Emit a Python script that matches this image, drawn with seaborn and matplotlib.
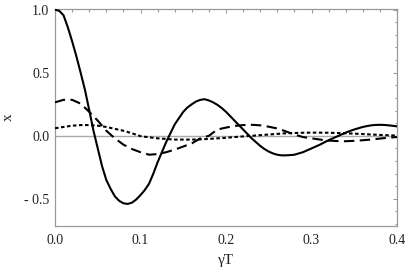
import numpy as np
import pandas as pd
import matplotlib
matplotlib.use("Agg")
import matplotlib.pyplot as plt
from matplotlib.ticker import MultipleLocator, FuncFormatter
import seaborn as sns

sns.set_style("white")
plt.rcParams["font.family"] = ["Liberation Serif", "DejaVu Serif"]

# values
# solid curve sampled every 0.005 in gamma*T (it bends sharply)
gt_solid = [0.000, 0.005, 0.010, 0.015, 0.020, 0.025, 0.030, 0.035, 0.040, 0.045,
            0.050, 0.055, 0.060, 0.065, 0.070, 0.075, 0.080, 0.085, 0.090, 0.095,
            0.100, 0.105, 0.110, 0.115, 0.120, 0.125, 0.130, 0.135, 0.140, 0.145,
            0.150, 0.155, 0.160, 0.165, 0.170, 0.175, 0.180, 0.185, 0.190, 0.195,
            0.200, 0.205, 0.210, 0.215, 0.220, 0.225, 0.230, 0.235, 0.240, 0.245,
            0.250, 0.255, 0.260, 0.265, 0.270, 0.275, 0.280, 0.285, 0.290, 0.295,
            0.300, 0.305, 0.310, 0.315, 0.320, 0.325, 0.330, 0.335, 0.340, 0.345,
            0.350, 0.355, 0.360, 0.365, 0.370, 0.375, 0.380, 0.385, 0.390, 0.395, 0.400]
x_solid = [1.00, 0.99, 0.955, 0.86, 0.75, 0.63, 0.50, 0.365, 0.205, 0.04,
           -0.10, -0.24, -0.35, -0.42, -0.48, -0.515, -0.535, -0.54, -0.53, -0.505,
           -0.47, -0.43, -0.38, -0.30, -0.21, -0.13, -0.05, 0.02, 0.09, 0.14,
           0.19, 0.225, 0.25, 0.272, 0.285, 0.29, 0.28, 0.265, 0.245, 0.22,
           0.19, 0.155, 0.12, 0.085, 0.05, 0.015, -0.02, -0.05, -0.08, -0.105,
           -0.125, -0.14, -0.15, -0.155, -0.155, -0.153, -0.15, -0.14, -0.13, -0.115,
           -0.10, -0.085, -0.07, -0.052, -0.035, -0.02, -0.005, 0.01, 0.025, 0.038,
           0.05, 0.06, 0.07, 0.077, 0.083, 0.086, 0.087, 0.086, 0.083, 0.079, 0.075]

# the other two sampled every 0.01
gt = [0.00, 0.01, 0.02, 0.03, 0.04, 0.05, 0.06, 0.07, 0.08, 0.09,
      0.10, 0.11, 0.12, 0.13, 0.14, 0.15, 0.16, 0.17, 0.18, 0.19,
      0.20, 0.21, 0.22, 0.23, 0.24, 0.25, 0.26, 0.27, 0.28, 0.29,
      0.30, 0.31, 0.32, 0.33, 0.34, 0.35, 0.36, 0.37, 0.38, 0.39, 0.40]
x_dashed = [0.265, 0.285, 0.285, 0.255, 0.19, 0.12, 0.04, -0.02, -0.07, -0.105,
            -0.13, -0.15, -0.145, -0.13, -0.11, -0.085, -0.06, -0.02, 0.0, 0.05,
            0.065, 0.078, 0.085, 0.087, 0.083, 0.072, 0.058, 0.035, 0.01, -0.01,
            -0.02, -0.03, -0.038, -0.042, -0.043, -0.04, -0.035, -0.03, -0.022, -0.015, -0.01]
x_dotted = [0.06, 0.07, 0.08, 0.085, 0.085, 0.08, 0.07, 0.055, 0.04, 0.02,
            -0.003, -0.012, -0.02, -0.025, -0.03, -0.03, -0.03, -0.028, -0.025, -0.02,
            -0.016, -0.01, -0.005, 0.0, 0.005, 0.01, 0.015, 0.02, 0.022, 0.024,
            0.025, 0.025, 0.024, 0.022, 0.02, 0.017, 0.014, 0.01, 0.007, 0.004, 0.002]

df = pd.DataFrame({
    "gT": gt_solid + gt + gt,
    "x": x_solid + x_dashed + x_dotted,
    "curve": ["a"] * len(gt_solid) + ["b"] * len(gt) + ["c"] * len(gt),
})

fig = plt.figure(figsize=(4.07, 2.70), dpi=100)
ax = fig.add_axes([55 / 407, 1 - 226 / 270, 342 / 407, 217 / 270])

ax.axhline(0, color="#aaaaaa", lw=1.0, zorder=1)

sns.lineplot(data=df, x="gT", y="x", style="curve",
             dashes={"a": "", "b": (5.0, 2.6), "c": (1.7, 1.2)},
             color="black", lw=1.5, legend=False, ax=ax, zorder=3)

ax.set_xlim(0, 0.4)
ax.set_ylim(-0.715, 1.005)

ax.xaxis.set_major_locator(MultipleLocator(0.1))
ax.xaxis.set_minor_locator(MultipleLocator(0.02))
ax.yaxis.set_major_locator(MultipleLocator(0.5))
ax.yaxis.set_minor_locator(MultipleLocator(0.1))
ax.xaxis.set_major_formatter(FuncFormatter(lambda v, p: f"{v:.1f}"))
ax.yaxis.set_major_formatter(
    FuncFormatter(lambda v, p: f"- {abs(v):.1f}" if v < -1e-9 else f"{v:.1f}"))

frame = "#999999"
for s in ax.spines.values():
    s.set_color(frame)
    s.set_linewidth(0.9)
ax.tick_params(which="both", direction="in", top=True, right=True,
               color=frame, width=0.8, labelsize=10, labelcolor="#222222")
ax.tick_params(which="major", length=3.0, pad=4)
ax.tick_params(axis="x", which="major", pad=6)
ax.tick_params(which="minor", length=1.8)

ax.set_xlabel("\u03b3T", fontsize=11, color="#222222", labelpad=5)
ax.set_ylabel("x", fontsize=11, color="#222222", labelpad=7)

fig.savefig("out.png", dpi=100)
